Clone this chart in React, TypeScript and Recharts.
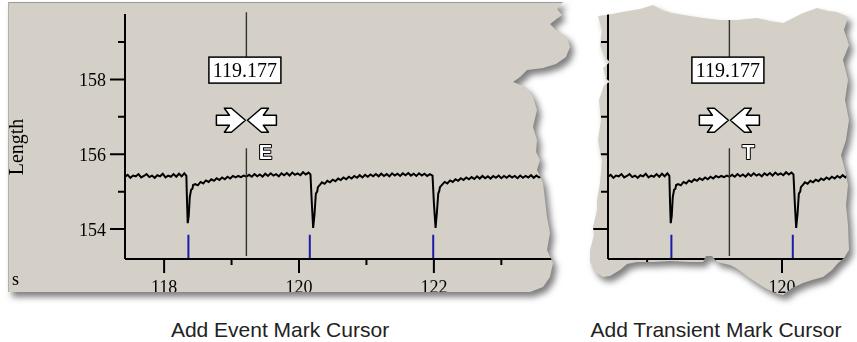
import {LineChart, Line, XAxis, YAxis, ReferenceLine, ReferenceDot} from "recharts";

// sampled trace: [time s, length]
const signal: [number, number][] = [
    [117.42, 155.40], [117.46, 155.45], [117.50, 155.37], [117.54, 155.43], [117.58, 155.41], [117.62, 155.47],
    [117.66, 155.38], [117.70, 155.42], [117.74, 155.47], [117.78, 155.39], [117.82, 155.43], [117.86, 155.37],
    [117.90, 155.44], [117.94, 155.41], [117.98, 155.48], [118.02, 155.38], [118.06, 155.43], [118.10, 155.40],
    [118.14, 155.47], [118.18, 155.40], [118.22, 155.48], [118.26, 155.41], [118.30, 155.49], [118.33, 155.42],
    [118.34, 154.70], [118.35, 154.16], [118.365, 154.35], [118.38, 154.85], [118.40, 155.05], [118.42, 155.08],
    [118.43, 155.18], [118.46, 155.20], [118.50, 155.17], [118.54, 155.26], [118.58, 155.22], [118.62, 155.30],
    [118.66, 155.26], [118.70, 155.33], [118.74, 155.29], [118.78, 155.36], [118.82, 155.31], [118.86, 155.38],
    [118.90, 155.33], [118.94, 155.40], [118.98, 155.35], [119.02, 155.42], [119.06, 155.38], [119.10, 155.42],
    [119.14, 155.39], [119.18, 155.43], [119.22, 155.40], [119.26, 155.45], [119.30, 155.40], [119.34, 155.47],
    [119.38, 155.41], [119.42, 155.46], [119.46, 155.40], [119.50, 155.48], [119.54, 155.42], [119.58, 155.49],
    [119.62, 155.43], [119.66, 155.47], [119.70, 155.41], [119.74, 155.49], [119.78, 155.44], [119.82, 155.50],
    [119.86, 155.43], [119.90, 155.51], [119.94, 155.45], [119.98, 155.49], [120.02, 155.44], [120.06, 155.52],
    [120.10, 155.46], [120.14, 155.51], [120.17, 155.46],
    [120.19, 154.70], [120.21, 154.03], [120.23, 154.40], [120.25, 154.95], [120.27, 155.00], [120.28, 155.12],
    [120.31, 155.18], [120.34, 155.25], [120.38, 155.21], [120.42, 155.29], [120.46, 155.25], [120.50, 155.32],
    [120.54, 155.28], [120.58, 155.35], [120.62, 155.31], [120.66, 155.38], [120.70, 155.33], [120.74, 155.40],
    [120.78, 155.35], [120.82, 155.42], [120.86, 155.37], [120.90, 155.44], [120.94, 155.38], [120.98, 155.45],
    [121.02, 155.40], [121.06, 155.46], [121.10, 155.41], [121.14, 155.47], [121.18, 155.41], [121.22, 155.48],
    [121.26, 155.42], [121.30, 155.47], [121.34, 155.41], [121.38, 155.49], [121.42, 155.43], [121.46, 155.48],
    [121.50, 155.42], [121.54, 155.49], [121.58, 155.44], [121.62, 155.50], [121.66, 155.43], [121.70, 155.48],
    [121.74, 155.42], [121.78, 155.49], [121.82, 155.43], [121.86, 155.48], [121.90, 155.42], [121.94, 155.47],
    [121.98, 155.43],
    [122.00, 154.70], [122.025, 154.03], [122.045, 154.45], [122.065, 154.95], [122.08, 155.02], [122.09, 155.12],
    [122.12, 155.18], [122.16, 155.26], [122.20, 155.22], [122.24, 155.30], [122.28, 155.26], [122.32, 155.33],
    [122.36, 155.29], [122.40, 155.36], [122.44, 155.31], [122.48, 155.38], [122.52, 155.33], [122.56, 155.39],
    [122.60, 155.34], [122.64, 155.41], [122.68, 155.35], [122.72, 155.42], [122.76, 155.36], [122.80, 155.41],
    [122.84, 155.35], [122.88, 155.42], [122.92, 155.37], [122.96, 155.43], [123.00, 155.36], [123.04, 155.42],
    [123.08, 155.37], [123.12, 155.43], [123.16, 155.38], [123.20, 155.42], [123.24, 155.36], [123.28, 155.43],
    [123.32, 155.37], [123.36, 155.42], [123.40, 155.38], [123.44, 155.44], [123.48, 155.37], [123.52, 155.43],
    [123.56, 155.38], [123.60, 155.41],
];

const eventMarks = [118.36, 120.16, 121.99];
const xTicks = [118, 119, 120, 121, 122, 123];
const yTicks = [154, 155, 156, 157, 158, 159];
const cursorX = 119.22;
const cursorLabel = "119.177";
const captions = ["Add Event Mark Cursor", "Add Transient Mark Cursor"];
const icons = ["E", "T"];

const data = signal.map(([t, v]) => ({t, v}));

const SERIF = "'Liberation Serif', 'Times New Roman', serif";
const SANS = "'Liberation Sans', Arial, sans-serif";
const PANEL = '#d4d0c8';

const leftShape = [
    [8, 2], [563, 2], [557, 9], [562, 15], [550, 24], [556, 30], [567, 37], [570, 47], [566, 57], [556, 64],
    [543, 68], [527, 70], [520, 77], [513, 82], [526, 87], [533, 97], [537, 110], [533, 127], [537, 140],
    [536, 152], [540, 160], [537, 170], [543, 183], [545, 200], [547, 217], [550, 233], [547, 250], [553, 263],
    [550, 277], [543, 287], [530, 292], [8, 292],
];

const rightShape = [
    [598, 16], [612, 14], [622, 12], [640, 9], [653, 5], [662, 10], [672, 13], [690, 16], [703, 18], [720, 20],
    [737, 20], [757, 18], [770, 21], [783, 23], [795, 17], [803, 13], [817, 8], [828, 11], [837, 12], [848, 17],
    [844, 30], [849, 45], [843, 60], [848, 80], [845, 100], [849, 120], [846, 140], [841, 155], [845, 170],
    [848, 185], [846, 205], [848, 225], [849, 250], [844, 258], [838, 263], [832, 270], [823, 277], [812, 280],
    [803, 283], [792, 288], [783, 295], [775, 293], [765, 288], [757, 283], [748, 277], [743, 273], [736, 268],
    [730, 265], [717, 262], [712, 256], [706, 256], [703, 262], [690, 262], [670, 261], [653, 262], [637, 262],
    [627, 264], [620, 270], [610, 276], [603, 277], [595, 272], [590, 262], [590, 250], [594, 235], [593, 227],
    [597, 210], [597, 200], [600, 183], [602, 160], [598, 140], [601, 120], [599, 100], [604, 85], [610, 82],
    [606, 78], [603, 68], [610, 62], [605, 57], [600, 45], [602, 30],
];

const poly = (pts: number[][]) => `polygon(${pts.map(([x, y]) => `${x}px ${y}px`).join(', ')})`;

const XTick = ({x, y, payload, show}: any) => {
    const major = payload.value % 2 === 0;
    return (
        <g>
            <line x1={x} x2={x} y1={y} y2={y + (major ? 14 : 6)} stroke="#000" strokeWidth={2}/>
            {major && show && <text x={x} y={y + 34} textAnchor="middle" fontFamily={SERIF} fontSize={18} fill="#000">{payload.value}</text>}
        </g>
    );
};

const YTick = ({x, y, payload}: any) => {
    const major = payload.value % 2 === 0;
    return (
        <g>
            <line x1={x - (major ? 15 : 7)} x2={x} y1={y} y2={y} stroke="#000" strokeWidth={2}/>
            {major && <text x={x - 19} y={y + 6.5} textAnchor="end" fontFamily={SERIF} fontSize={18} fill="#000">{payload.value}</text>}
        </g>
    );
};

const arrowPts = [[-30, -5], [-17, -5], [-22, -12], [-15, -12], [-1, 0], [-15, 12], [-22, 12], [-17, 5], [-30, 5]];

const Arrows = ({cx, cy}: any) => (
    <g stroke="#000" strokeWidth={1.5} fill="#fff" strokeLinejoin="round">
        <path d={'M' + arrowPts.map(([dx, dy]) => `${cx + dx},${cy + dy}`).join(' L') + ' Z'}/>
        <path d={'M' + arrowPts.map(([dx, dy]) => `${cx - dx},${cy + dy}`).join(' L') + ' Z'}/>
    </g>
);

const CursorBox = ({cx, cy}: any) => (
    <g>
        <rect x={cx - 37.5} y={cy - 13} width={72} height={26} fill="#fff" stroke="#000" strokeWidth={1.5}/>
        <text x={cx - 1.5} y={cy + 7} textAnchor="middle" fontFamily={SERIF} fontSize={20} fill="#000">{cursorLabel}</text>
    </g>
);

const Icon = ({cx, cy, letter}: any) => (
    <text x={cx + 19} y={cy + 7} textAnchor="middle" fontFamily={SANS} fontWeight="bold" fontSize={20}
          fill="#fff" stroke="#000" strokeWidth={2} paintOrder="stroke" strokeLinejoin="round">{letter}</text>
);

function Trace({icon, maxLabel}: {icon: string, maxLabel: number}) {
    return (
        <LineChart width={570} height={300} data={data} margin={{top: 14, right: 10, bottom: 0, left: 0}}>
            <XAxis dataKey="t" type="number" domain={[117.42, 123.87]} allowDataOverflow ticks={xTicks} interval={0}
                   height={41} tickSize={0} tickMargin={0} tickLine={false}
                   tick={(p: any) => <XTick {...p} show={p.payload.value <= maxLabel}/>}
                   axisLine={{stroke: '#000', strokeWidth: 2}}
                   label={{content: () => <text x={12} y={285} fontFamily={SERIF} fontSize={18} fill="#000">s</text>}}/>
            <YAxis type="number" domain={[153.2, 159.75]} allowDataOverflow ticks={yTicks} interval={0} width={125}
                   tickSize={0} tickMargin={0} tickLine={false} tick={(p: any) => <YTick {...p}/>}
                   axisLine={{stroke: '#000', strokeWidth: 2}}
                   label={{content: () => <text transform="translate(23,147) rotate(-90)" textAnchor="middle"
                                                fontFamily={SERIF} fontSize={20} fill="#000">Length</text>}}/>
            <Line type="linear" dataKey="v" stroke="#000" strokeWidth={2} dot={false} isAnimationActive={false}/>
            {eventMarks.map(m => (
                <ReferenceLine key={m} segment={[{x: m, y: 153.2}, {x: m, y: 153.85}]} stroke="#1c1ca8" strokeWidth={2}
                               ifOverflow="visible"/>
            ))}
            <ReferenceLine segment={[{x: cursorX, y: 159.8}, {x: cursorX, y: 158.59}]} stroke="#333" strokeWidth={1.4}
                           ifOverflow="visible"/>
            <ReferenceLine segment={[{x: cursorX, y: 156.16}, {x: cursorX, y: 153.28}]} stroke="#333" strokeWidth={1.4}
                           ifOverflow="visible"/>
            <ReferenceDot x={cursorX} y={158.25} r={1} ifOverflow="visible" shape={(p: any) => <CursorBox cx={p.cx} cy={p.cy}/>}/>
            <ReferenceDot x={cursorX} y={156.91} r={1} ifOverflow="visible" shape={(p: any) => <Arrows cx={p.cx} cy={p.cy}/>}/>
            <ReferenceDot x={cursorX} y={156.05} r={1} ifOverflow="visible" shape={(p: any) => <Icon cx={p.cx} cy={p.cy} letter={icon}/>}/>
        </LineChart>
    );
}

const full = {position: 'absolute' as const, left: 0, top: 0, width: 857, height: 342};

export default function App() {
    return (
        <div style={{...full, background: '#fff', overflow: 'hidden'}}>
            <div style={{...full, filter: 'drop-shadow(4px 5px 3px rgba(0,0,0,0.5))'}}>
                <div style={{...full, clipPath: poly(leftShape), background: PANEL, overflow: 'hidden'}}>
                    <div style={{position: 'absolute', left: 8, top: 2, width: 560, height: 1, background: '#9a9a9a'}}/>
                    <div style={{position: 'absolute', left: 8, top: 2, width: 1, height: 290, background: '#b0b0b0'}}/>
                    <div style={{position: 'absolute', left: 0, top: 0}}>
                        <Trace icon={icons[0]} maxLabel={122}/>
                    </div>
                </div>
            </div>
            <div style={{...full, filter: 'drop-shadow(4px 5px 3px rgba(0,0,0,0.5))'}}>
                <div style={{...full, clipPath: poly(rightShape), background: PANEL, overflow: 'hidden'}}>
                    <div style={{position: 'absolute', left: 483, top: 0, width: 374, height: 300, overflow: 'hidden'}}>
                        <Trace icon={icons[1]} maxLabel={120}/>
                    </div>
                </div>
            </div>
            <div style={{position: 'absolute', left: 180, top: 318, width: 200, whiteSpace: 'nowrap',
                fontFamily: SANS, fontSize: 21, color: '#222', display: 'flex', justifyContent: 'center'}}>
                {captions[0]}
            </div>
            <div style={{position: 'absolute', left: 616, top: 318, width: 200, whiteSpace: 'nowrap',
                fontFamily: SANS, fontSize: 21, color: '#222', display: 'flex', justifyContent: 'center'}}>
                {captions[1]}
            </div>
        </div>
    );
}
